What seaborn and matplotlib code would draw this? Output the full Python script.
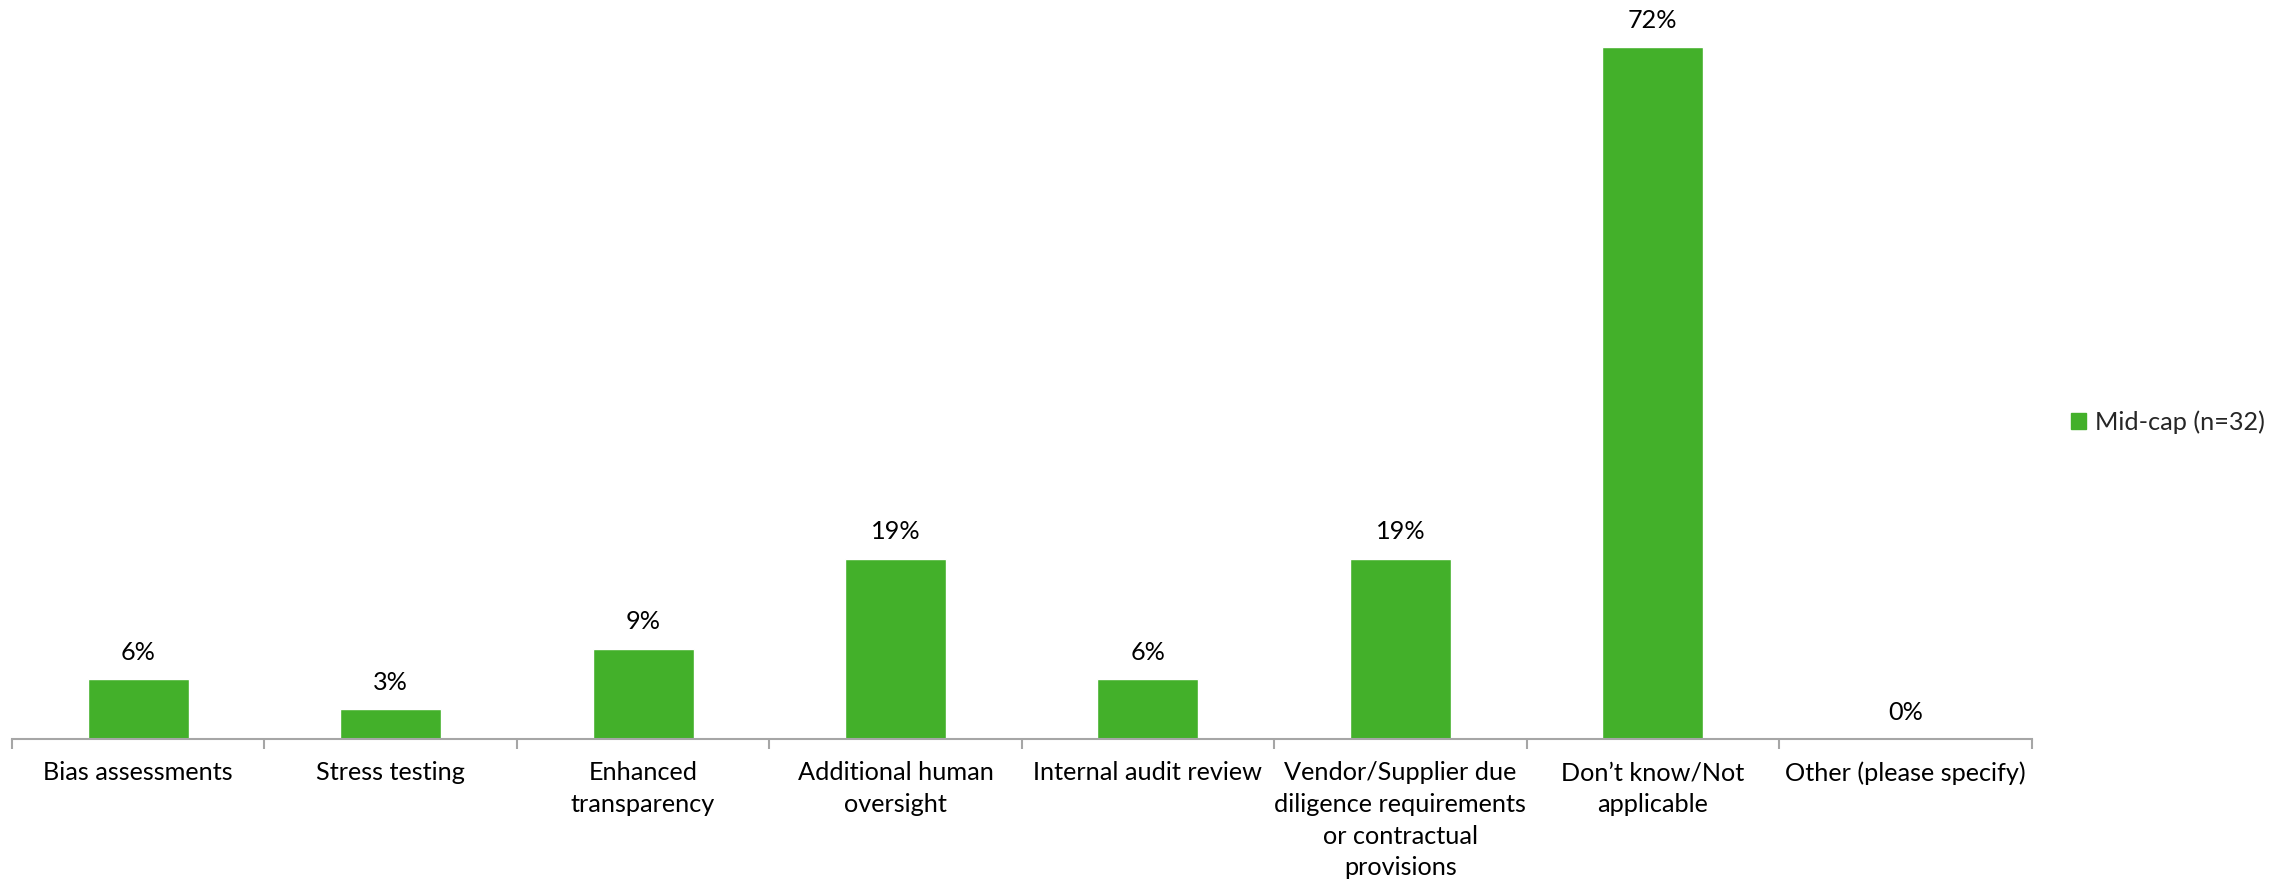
import pandas as pd
import matplotlib
matplotlib.use("Agg")
import matplotlib.pyplot as plt
import seaborn as sns

# ----------------------------------------------------
# Data (share of mid-cap respondents, n=32)
# ----------------------------------------------------
categories = [
    "Bias assessments",
    "Stress testing",
    "Enhanced\ntransparency",
    "Additional human\noversight",
    "Internal audit review",
    "Vendor/Supplier due\ndiligence requirements\nor contractual\nprovisions",
    "Don\u2019t know/Not\napplicable",
    "Other (please specify)",
]
values = [6.25, 3.125, 9.375, 18.75, 6.25, 18.75, 71.875, 0.0]
series_name = "Mid-cap (n=32)"

df = pd.DataFrame({"category": categories, "pct": values, "series": series_name})

green = "#43B02A"
axis_grey = "#A6A6A6"
fs = 18.2

sns.set_theme(style="white")
plt.rcParams["font.family"] = ["Lato", "DejaVu Sans"]

fig = plt.figure(figsize=(22.95, 8.85), dpi=100)
ax = fig.add_axes([0.0052, 0.165, 0.88, 0.835])

sns.barplot(data=df, x="category", y="pct", hue="series", palette=[green],
            width=0.4, ax=ax, saturation=1)

# data labels
for c in ax.containers:
    ax.bar_label(c, labels=[f"{v:.0f}%" for v in values], padding=11,
                 fontsize=fs, color="#000000", clip_on=False)

ax.set_xlim(-0.5, len(categories) - 0.5)
ax.set_ylim(0, 76.8)
ax.set_xlabel("")
ax.set_ylabel("")
ax.set_yticks([])

# Excel-style axis: tick marks between categories, labels centred
ax.set_xticks([i - 0.5 for i in range(len(categories) + 1)])
ax.set_xticklabels([])
ax.set_xticks(range(len(categories)), minor=True)
ax.set_xticklabels(categories, minor=True, fontsize=fs, linespacing=1.46)
ax.tick_params(axis="x", which="major", length=7, width=1.5, color=axis_grey,
               direction="out", bottom=True)
ax.tick_params(axis="x", which="minor", length=0, pad=16, labelcolor="#000000")

for side in ["top", "right", "left"]:
    ax.spines[side].set_visible(False)
ax.spines["bottom"].set_color(axis_grey)
ax.spines["bottom"].set_linewidth(1.5)

leg = ax.get_legend()
leg.remove()
handles = [plt.Rectangle((0, 0), 1, 1, color=green)]
fig.legend(handles, [series_name], loc="center left",
           bbox_to_anchor=(0.9025, 0.523), frameon=False, fontsize=fs,
           handlelength=0.6, handleheight=0.6, handletextpad=0.35,
           borderpad=0, borderaxespad=0)

fig.savefig("out.png", dpi=100, facecolor="white")
